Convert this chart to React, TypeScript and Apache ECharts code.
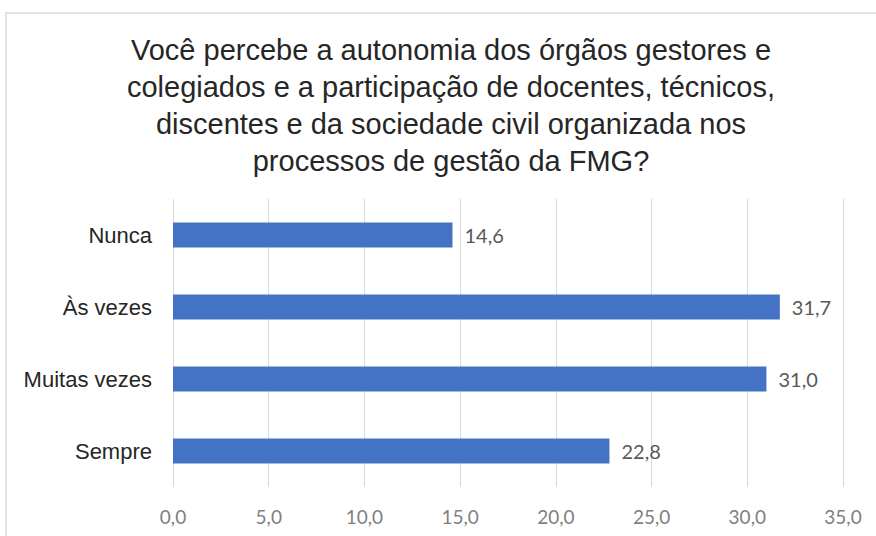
import React, { useEffect, useRef } from "react";
import * as echarts from "echarts";

const titleLines = [
  "Você percebe a autonomia dos órgãos gestores e",
  "colegiados e a participação de docentes, técnicos,",
  "discentes e da sociedade civil organizada nos",
  "processos de gestão da FMG?",
];
const categories = ["Nunca", "Às vezes", "Muitas vezes", "Sempre"];
const values = [14.6, 31.7, 31.0, 22.8];
const axisMin = 0;
const axisMax = 35;
const axisStep = 5;

const fmt = (v: number) => v.toFixed(1).replace(".", ",");

export default function App() {
  const ref = useRef<HTMLDivElement>(null);
  useEffect(() => {
    if (!ref.current) return;
    const chart = echarts.init(ref.current, undefined, { renderer: "svg" });
    chart.setOption({
      animation: false,
      backgroundColor: "#ffffff",
      title: {
        text: titleLines.join("\n"),
        left: 446,
        textAlign: "center",
        top: 26,
        textStyle: {
          fontFamily: "Liberation Sans, Arial, sans-serif",
          fontSize: 29,
          fontWeight: "normal",
          color: "#262626",
          lineHeight: 37,
        },
      },
      graphic: [
        {
          type: "rect",
          shape: { x: 6, y: 13, width: 900, height: 600 },
          style: { fill: "none", stroke: "#d9d9d9", lineWidth: 1.5 },
          silent: true,
        },
      ],
      grid: { left: 173, right: 33, top: 199, bottom: 49, containLabel: false },
      xAxis: {
        type: "value",
        min: axisMin,
        max: axisMax,
        interval: axisStep,
        axisLine: { show: false },
        axisTick: { show: false },
        splitLine: { show: true, lineStyle: { color: "#d9d9d9", width: 1 } },
        axisLabel: {
          formatter: (v: number) => fmt(v),
          color: "#7f7f7f",
          fontFamily: "Lato, Open Sans, sans-serif",
          fontSize: 19,
          margin: 20,
        },
      },
      yAxis: {
        type: "category",
        data: categories,
        inverse: true,
        axisLine: { show: false },
        axisTick: { show: false },
        axisLabel: {
          color: "#262626",
          fontFamily: "Liberation Sans, Arial, sans-serif",
          fontSize: 22,
          margin: 21,
        },
      },
      series: [
        {
          type: "bar",
          data: values,
          barWidth: 25,
          itemStyle: { color: "#4472c4" },
          label: {
            show: true,
            position: "right",
            distance: 12,
            formatter: (p: any) => fmt(p.value),
            color: "#595959",
            fontFamily: "Lato, Open Sans, sans-serif",
            fontSize: 20,
          },
        },
      ],
    });
    return () => chart.dispose();
  }, []);
  return (
    <div
      ref={ref}
      style={{ position: "fixed", left: 0, top: 0, width: 876, height: 536 }}
    />
  );
}
